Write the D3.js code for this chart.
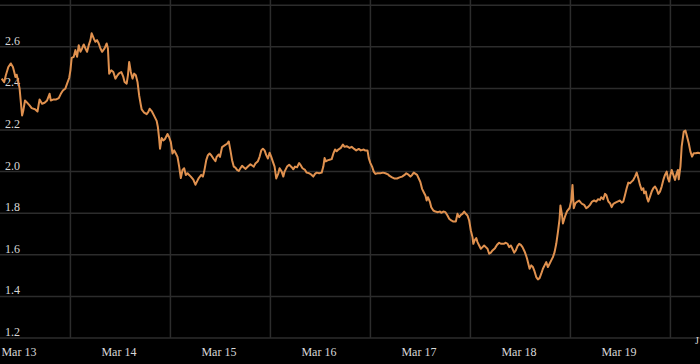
<!DOCTYPE html>
<html>
<head>
<meta charset="utf-8">
<script src="https://cdn.jsdelivr.net/npm/d3@7"></script>
<style>
  html, body { margin: 0; padding: 0; background: #000; }
  svg { display: block; }
  .lbl { font-family: "Liberation Serif", "Times New Roman", serif; font-size: 12px; fill: #d8d8d8; }
</style>
</head>
<body>
<svg id="chart"></svg>
<script>
// hours after the first reading (Mar 13, 07:06)
const hours = [
  0.4, 1.0, 1.4, 2.0, 2.6, 3.1, 3.4, 3.7, 4.0, 4.3, 4.7, 5.0, 5.3, 5.6, 6.0, 6.4, 7.1, 7.6, 8.4, 9.0,
  9.5, 10.1, 10.7, 11.3, 11.9, 12.2, 12.9, 13.5, 14.1, 14.6, 15.1, 15.7, 16.1, 16.6, 16.9, 17.2, 17.7, 18.1, 18.5, 18.9,
  19.3, 19.7, 20.1, 20.5, 20.9, 21.3, 21.7, 22.0, 22.5, 22.9, 23.3, 23.7, 24.1, 24.5, 25.1, 25.6, 25.9, 26.2, 26.7, 27.2,
  27.7, 28.2, 28.5, 29.1, 29.6, 29.9, 30.4, 30.7, 31.0, 31.4, 31.8, 32.2, 32.6, 33.0, 33.4, 33.8, 34.0, 34.6, 35.2, 35.6,
  35.9, 36.4, 37.0, 37.6, 37.9, 38.2, 38.4, 38.8, 39.2, 39.6, 40.2, 40.6, 41.0, 41.4, 41.8, 42.2, 42.6, 43.0, 43.4, 43.8,
  44.2, 44.6, 45.0, 45.4, 45.8, 46.4, 46.9, 47.3, 47.7, 48.3, 48.7, 49.0, 49.5, 49.9, 50.3, 50.7, 51.2, 51.7, 52.0, 52.5,
  52.8, 53.3, 53.9, 54.5, 54.9, 55.3, 55.7, 56.1, 56.5, 56.9, 57.3, 57.7, 58.1, 58.6, 58.9, 59.5, 60.1, 60.6, 60.9, 61.3,
  61.9, 62.3, 62.7, 63.1, 63.5, 63.9, 64.3, 64.7, 65.1, 65.5, 65.9, 66.3, 66.8, 67.1, 67.6, 68.0, 68.3, 68.9, 69.4, 70.0,
  70.4, 70.8, 71.3, 71.8, 72.1, 72.6, 73.2, 73.6, 74.2, 74.8, 75.2, 75.6, 76.0, 76.6, 77.2, 77.6, 77.9, 78.2, 78.6, 79.1,
  79.6, 80.0, 80.4, 80.8, 81.2, 81.8, 82.3, 82.7, 83.2, 83.9, 84.4, 85.0, 85.5, 86.1, 86.6, 87.3, 87.6, 88.2, 88.5, 88.9,
  89.3, 89.7, 90.1, 90.6, 91.3, 91.9, 92.5, 93.1, 93.5, 94.1, 94.6, 95.3, 95.9, 96.5, 97.1, 97.5, 98.1, 98.5, 98.9, 99.3,
  100.1, 100.5, 100.9, 101.3, 101.7, 102.1, 102.4, 102.7, 103.2, 103.5, 104.0, 104.5, 105.1, 105.6, 105.9, 106.4, 106.9, 107.4, 107.8, 108.3,
  108.8, 109.4, 109.8, 110.2, 110.6, 111.0, 111.4, 111.8, 112.2, 112.6, 113.0, 113.4, 113.6, 113.9, 114.3, 114.6, 115.0, 115.4, 115.8, 116.2,
  116.6, 117.0, 117.4, 117.8, 118.2, 118.8, 119.3, 119.8, 120.2, 120.9, 121.4, 121.8, 122.2, 122.6, 123.0, 123.4, 123.8, 124.2, 124.6, 125.0,
  125.4, 125.9, 126.2, 126.5, 126.8, 127.1, 127.5, 127.9, 128.3, 128.7, 129.1, 129.5, 129.9, 130.3, 130.7, 131.1, 131.5, 131.9, 132.3, 132.7,
  133.1, 133.5, 133.9, 134.3, 134.5, 134.9, 135.1, 135.7, 136.1, 136.7, 137.1, 137.4, 137.7, 138.1, 138.6, 139.0, 139.4, 139.7, 140.2, 140.7,
  141.1, 141.6, 142.1, 142.6, 143.1, 143.5, 144.0, 144.3, 144.8, 145.2, 145.5, 146.0, 146.4, 146.8, 147.2, 147.7, 148.2, 148.8, 149.2, 149.6,
  150.0, 150.4, 150.8, 151.2, 151.6, 152.0, 152.4, 152.8, 153.2, 153.6, 154.0, 154.4, 154.6, 155.0, 155.3, 155.6, 156.0, 156.4, 156.8, 157.2,
  157.6, 158.0, 158.4, 158.8, 159.2, 159.6, 160.0, 160.3, 160.6, 160.9, 161.2, 161.6, 162.0, 162.4, 162.7, 162.9, 163.3, 163.6, 164.1, 164.5,
  164.8, 165.3, 165.7, 166.1, 166.5, 167.0, 167.5, 168.1, 168.6, 168.9
]

const rates = [
  2.447, 2.43, 2.463, 2.503, 2.52, 2.503, 2.48, 2.455, 2.466, 2.44, 2.40, 2.334, 2.27, 2.294, 2.342, 2.334, 2.318, 2.305, 2.30, 2.289,
  2.347, 2.326, 2.331, 2.342, 2.374, 2.342, 2.347, 2.347, 2.353, 2.374, 2.39, 2.40, 2.423, 2.45, 2.487, 2.547, 2.552, 2.584, 2.552, 2.608,
  2.576, 2.592, 2.611, 2.592, 2.576, 2.608, 2.632, 2.665, 2.64, 2.624, 2.632, 2.616, 2.592, 2.576, 2.592, 2.616, 2.592, 2.471, 2.487, 2.479,
  2.447, 2.463, 2.471, 2.479, 2.455, 2.431, 2.423, 2.463, 2.527, 2.479, 2.447, 2.471, 2.463, 2.431, 2.366, 2.32, 2.299, 2.283, 2.276, 2.287,
  2.302, 2.291, 2.268, 2.244, 2.213, 2.157, 2.110, 2.161, 2.150, 2.157, 2.181, 2.165, 2.142, 2.087, 2.102, 2.087, 2.071, 2.024, 1.969, 2.008,
  2.016, 1.984, 1.992, 1.984, 1.976, 1.961, 1.937, 1.953, 1.969, 1.984, 1.976, 2.0, 2.055, 2.079, 2.087, 2.079, 2.063, 2.050, 2.071, 2.082,
  2.071, 2.118, 2.126, 2.134, 2.145, 2.102, 2.055, 2.024, 2.019, 2.008, 2.003, 2.016, 2.028, 2.019, 2.013, 2.024, 2.035, 2.028, 2.024, 2.039,
  2.050, 2.071, 2.102, 2.110, 2.102, 2.079, 2.063, 2.091, 2.071, 2.047, 2.024, 1.967, 1.992, 2.016, 2.0, 1.976, 2.0, 2.024, 2.033, 2.021,
  2.011, 2.024, 2.021, 2.041, 2.033, 2.016, 2.008, 1.995, 1.992, 1.984, 1.976, 1.989, 1.995, 1.992, 1.995, 2.024, 2.065, 2.049, 2.054, 2.057,
  2.060, 2.086, 2.106, 2.098, 2.106, 2.114, 2.130, 2.119, 2.122, 2.114, 2.119, 2.109, 2.102, 2.109, 2.102, 2.106, 2.102, 2.102, 2.065, 2.041,
  2.024, 2.0, 1.989, 1.992, 1.992, 1.995, 1.992, 1.987, 1.979, 1.972, 1.967, 1.967, 1.972, 1.976, 1.984, 1.992, 1.984, 1.976, 1.984, 1.995,
  1.984, 1.967, 1.949, 1.917, 1.901, 1.885, 1.861, 1.877, 1.853, 1.829, 1.813, 1.808, 1.805, 1.808, 1.802, 1.808, 1.805, 1.789, 1.773, 1.765,
  1.76, 1.76, 1.797, 1.781, 1.792, 1.797, 1.808, 1.797, 1.789, 1.765, 1.717, 1.685, 1.653, 1.669, 1.68, 1.661, 1.645, 1.629, 1.637, 1.645,
  1.637, 1.629, 1.605, 1.61, 1.621, 1.632, 1.648, 1.658, 1.653, 1.653, 1.658, 1.653, 1.637, 1.645, 1.629, 1.61, 1.621, 1.642, 1.653, 1.648,
  1.637, 1.616, 1.6, 1.581, 1.557, 1.533, 1.549, 1.541, 1.52, 1.493, 1.482, 1.488, 1.509, 1.533, 1.549, 1.565, 1.541, 1.557, 1.573, 1.589,
  1.613, 1.653, 1.709, 1.773, 1.837, 1.789, 1.751, 1.79, 1.81, 1.825, 1.86, 1.936, 1.824, 1.848, 1.856, 1.861, 1.851, 1.845, 1.84, 1.824,
  1.829, 1.84, 1.856, 1.861, 1.856, 1.867, 1.864, 1.877, 1.867, 1.893, 1.888, 1.856, 1.848, 1.829, 1.845, 1.851, 1.856, 1.861, 1.851, 1.856,
  1.888, 1.92, 1.947, 1.944, 1.952, 1.96, 1.976, 1.995, 1.968, 1.936, 1.912, 1.92, 1.896, 1.904, 1.872, 1.856, 1.88, 1.904, 1.92, 1.928,
  1.915, 1.893, 1.904, 1.928, 1.96, 1.984, 2.0, 1.968, 1.952, 1.984, 2.008, 1.984, 1.96, 1.992, 2.008, 1.963, 2.024, 2.12, 2.192, 2.197,
  2.176, 2.136, 2.096, 2.072, 2.088, 2.088, 2.091, 2.088, 2.08, 2.078
]

const yTicks = [1.2, 1.4, 1.6, 1.8, 2.0, 2.2, 2.4, 2.6]
const yGrid = [1.2, 1.4, 1.6, 1.8, 2.0, 2.2, 2.4, 2.6, 2.8]

const width = 700
const height = 364

const startTime = new Date(2024, 2, 13, 7, 6)
const endTime = d3.timeHour.offset(startTime, 168.9)

const data = hours.map((h, i) => ({
  date: new Date(startTime.getTime() + h * 3600000),
  value: rates[i]
}))

const svg = d3.select("#chart").attr("width", width).attr("height", height)

svg.append("rect").attr("width", width).attr("height", height).attr("fill", "#000")

const x = d3.scaleTime()
  .domain([startTime, endTime])
  .range([0, width])

const y = d3.scaleLinear()
  .domain([1.2, 2.8])
  .range([338, 5.2])

// horizontal grid
svg.append("g")
  .selectAll("line")
  .data(yGrid)
  .join("line")
    .attr("x1", 0)
    .attr("x2", width)
    .attr("y1", d => y(d))
    .attr("y2", d => y(d))
    .attr("stroke", "#2c2c2c")
    .attr("stroke-width", 1.5)

// vertical grid at midnight
const days = d3.timeDay.range(d3.timeDay.ceil(startTime), endTime)

svg.append("g")
  .selectAll("line")
  .data(days)
  .join("line")
    .attr("x1", d => x(d))
    .attr("x2", d => x(d))
    .attr("y1", 0)
    .attr("y2", y(1.2))
    .attr("stroke", "#2c2c2c")
    .attr("stroke-width", 1.5)

// y labels
svg.append("g")
  .selectAll("text")
  .data(yTicks)
  .join("text")
    .attr("class", "lbl")
    .attr("x", 5)
    .attr("y", d => y(d) - 2)
    .text(d => d.toFixed(1))

// day labels, centred on noon
const labelDays = d3.timeDay.range(d3.timeDay.floor(startTime), d3.timeDay.floor(endTime))

svg.append("g")
  .selectAll("text")
  .data(labelDays)
  .join("text")
    .attr("class", "lbl")
    .attr("x", d => x(d3.timeHour.offset(d, 12)) - 1.5)
    .attr("y", 355.5)
    .attr("text-anchor", "middle")
    .text(d3.timeFormat("%b %-d"))

svg.append("text")
  .attr("class", "lbl")
  .attr("x", 695)
  .attr("y", 344)
  .style("font-size", "10px")
  .text("J")

const line = d3.line()
  .x(d => x(d.date))
  .y(d => y(d.value))

svg.append("path")
  .datum(data)
  .attr("fill", "none")
  .attr("stroke", "#e0914f")
  .attr("stroke-width", 2)
  .attr("stroke-linejoin", "round")
  .attr("d", line)
</script>
</body>
</html>
